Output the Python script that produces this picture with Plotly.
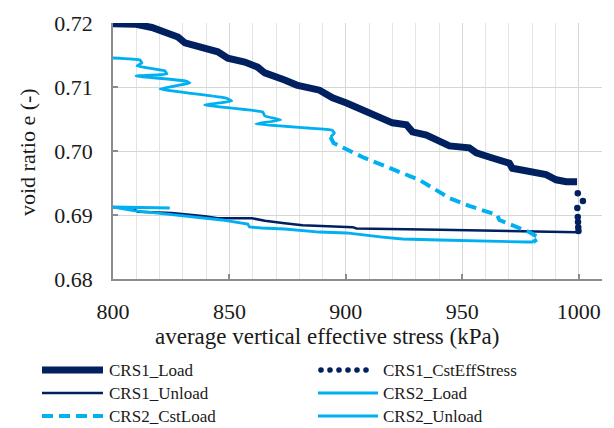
import plotly.graph_objects as go

# ---- data: average vertical effective stress (kPa) vs void ratio e (-) ----
crs1_load_x = [800.0, 810.0, 816.7, 822.3, 827.9, 830.9, 838.1, 845.0, 849.3, 856.6,
               862.1, 865.2, 873.7, 878.9, 888.7, 894.3, 900.3, 907.2, 914.4, 920.0,
               926.0, 928.6, 934.6, 940.2, 944.5, 953.0, 956.0, 962.9, 970.2, 971.5,
               978.7, 986.0, 990.3, 994.6, 999.3]
crs1_load_e = [0.7199, 0.7198, 0.7193, 0.7186, 0.7178, 0.7169, 0.7163, 0.7155, 0.7145, 0.7139,
               0.7131, 0.7122, 0.7111, 0.7103, 0.7095, 0.7083, 0.7075, 0.7064, 0.7052, 0.7044,
               0.7041, 0.7030, 0.7025, 0.7017, 0.7008, 0.7005, 0.6997, 0.6989, 0.6981, 0.6973,
               0.6967, 0.6963, 0.6955, 0.6952, 0.6952]

crs1_cst_x = [999.6, 1001.8, 999.4, 999.6, 999.7, 999.8, 999.9]
crs1_cst_e = [0.6934, 0.6922, 0.6911, 0.6897, 0.6889, 0.6881, 0.6875]

crs1_unload_x = [1000.0, 999.3, 940.2, 904.6, 902.9, 881.4, 873.7, 865.2, 859.6, 845.0,
                 839.4, 832.1, 825.3, 810.7, 808.1, 800.0]
crs1_unload_e = [0.6875, 0.6873, 0.6877, 0.6879, 0.6881, 0.6884, 0.6887, 0.6891, 0.6895, 0.6895,
                 0.6898, 0.6900, 0.6903, 0.6905, 0.6911, 0.6912]

crs2_load_x = [800.0, 811.6, 812.4, 810.3, 822.3, 823.1, 809.9, 831.3, 833.0, 820.1,
               848.4, 851.0, 839.4, 864.3, 865.2, 872.0, 861.3, 883.6, 893.9, 895.1, 893.4]
crs2_load_e = [0.71453, 0.71422, 0.71375, 0.71328, 0.71250, 0.71203, 0.71172, 0.71094, 0.71063, 0.70969,
               0.70828, 0.70781, 0.70719, 0.70609, 0.70547, 0.70484, 0.70422, 0.70359, 0.70328, 0.70281, 0.70219]

crs2_cst_x = [893.4, 894.7, 907.1, 918.7, 931.6, 944.4, 953.0, 965.0, 965.9, 978.7, 983.0, 980.4]
crs2_cst_e = [0.70219, 0.70125, 0.69906, 0.69734, 0.69547, 0.69266, 0.69141, 0.69000, 0.68922,
              0.68734, 0.68641, 0.68578]

crs2_unload_x = [980.4, 977.4, 940.1, 924.3, 915.7, 900.3, 888.7, 880.1, 873.7, 863.9,
                 858.6, 857.9, 846.7, 819.3, 809.4, 800.0, 824.4]
crs2_unload_e = [0.68578, 0.68578, 0.68609, 0.68625, 0.68656, 0.68719, 0.68734, 0.68766, 0.68781, 0.68797,
                 0.68813, 0.68859, 0.68922, 0.69031, 0.69063, 0.69125, 0.69109]

x_ticks = [800, 850, 900, 950, 1000]
y_ticks = [0.68, 0.69, 0.70, 0.71, 0.72]

NAVY = "#002060"
CYAN = "#00B0F0"
FONT = "Liberation Serif"
TXT = "#1a1a1a"

W, H = 614, 428
L, R, T, B = 113, 602, 23, 279  # plot area in pixels


def px(xp):
    return (xp - L) / (R - L)


def py(yp):
    return (B - yp) / (B - T)


fig = go.Figure()

fig.add_trace(go.Scatter(x=crs1_load_x, y=crs1_load_e, mode="lines", name="CRS1_Load",
                         line=dict(color=NAVY, width=7)))
fig.add_trace(go.Scatter(x=crs1_unload_x, y=crs1_unload_e, mode="lines", name="CRS1_Unload",
                         line=dict(color=NAVY, width=2.5)))
fig.add_trace(go.Scatter(x=crs1_cst_x, y=crs1_cst_e, mode="markers", name="CRS1_CstEffStress",
                         marker=dict(color=NAVY, size=6.5, line=dict(width=0))))
fig.add_trace(go.Scatter(x=crs2_load_x, y=crs2_load_e, mode="lines", name="CRS2_Load",
                         line=dict(color=CYAN, width=2.8, shape="spline", smoothing=0.3)))
fig.add_trace(go.Scatter(x=crs2_cst_x, y=crs2_cst_e, mode="lines", name="CRS2_CstLoad",
                         line=dict(color=CYAN, width=4, dash="11px,6px")))
fig.add_trace(go.Scatter(x=crs2_unload_x, y=crs2_unload_e, mode="lines", name="CRS2_Unload",
                         line=dict(color=CYAN, width=2.8)))

axis_common = dict(
    showline=True, linecolor="#8c8c8c", linewidth=1.5, mirror=False,
    ticks="inside", ticklen=5, tickwidth=1.5, tickcolor="#8c8c8c",
    zeroline=False, tickfont=dict(family=FONT, size=22, color=TXT),
    showgrid=True, gridcolor="#d6d6d6", gridwidth=1.2,
)

fig.update_xaxes(range=[800, 1010], tickvals=x_ticks, ticklabelstandoff=12,
                 minor=dict(dtick=10, showgrid=True, gridcolor="#e3e3e3", gridwidth=1, ticks=""),
                 **axis_common)
fig.update_yaxes(range=[0.68, 0.72], tickvals=y_ticks, tickformat=".2f", ticklabelstandoff=14,
                 **axis_common)

annotations = [
    dict(text="void ratio e (-)", x=px(27), y=py(152), textangle=-90,
         font=dict(family=FONT, size=22, color=TXT)),
    dict(text="average vertical effective stress (kPa)", x=px(327), y=py(336),
         font=dict(family=FONT, size=23, color=TXT)),
]
for a in annotations:
    a.update(xref="paper", yref="paper", xanchor="center", yanchor="middle", showarrow=False)

# legend drawn below the plot: sample + label for each series
shapes = []
rows = [370, 393, 416]
c1_x0, c1_x1, c1_t = 42, 103, 107
c2_x0, c2_x1, c2_t = 318, 378, 381

legend_items = [
    ("CRS1_Load", 0, 0, dict(color=NAVY, width=7)),
    ("CRS1_CstEffStress", 1, 0, None),
    ("CRS1_Unload", 0, 1, dict(color=NAVY, width=2.5)),
    ("CRS2_Load", 1, 1, dict(color=CYAN, width=2.8)),
    ("CRS2_CstLoad", 0, 2, dict(color=CYAN, width=4, dash="11px,6px")),
    ("CRS2_Unload", 1, 2, dict(color=CYAN, width=2.8)),
]
for label, col, row, ln in legend_items:
    x0, x1, xt = (c1_x0, c1_x1, c1_t) if col == 0 else (c2_x0, c2_x1, c2_t)
    yy = rows[row]
    if ln is None:
        for k in range(6):
            cx = x0 + 3 + k * 9
            shapes.append(dict(type="circle", xref="paper", yref="paper",
                               xsizemode="pixel", ysizemode="pixel",
                               xanchor=px(cx), yanchor=py(yy), x0=-2.8, x1=2.8, y0=-2.8, y1=2.8,
                               fillcolor=NAVY, line=dict(width=0)))
    else:
        shapes.append(dict(type="line", xref="paper", yref="paper",
                           x0=px(x0), x1=px(x1), y0=py(yy), y1=py(yy), line=ln))
    annotations.append(dict(text=label, x=px(xt), y=py(yy), xref="paper", yref="paper",
                            xanchor="left", yanchor="middle", showarrow=False,
                            font=dict(family=FONT, size=17, color=TXT)))

fig.update_layout(
    width=W, height=H,
    margin=dict(l=L, r=W - R, t=T, b=H - B, pad=0),
    paper_bgcolor="white", plot_bgcolor="white",
    showlegend=False,
    annotations=annotations,
    shapes=shapes,
)

fig.write_html("out.html")
